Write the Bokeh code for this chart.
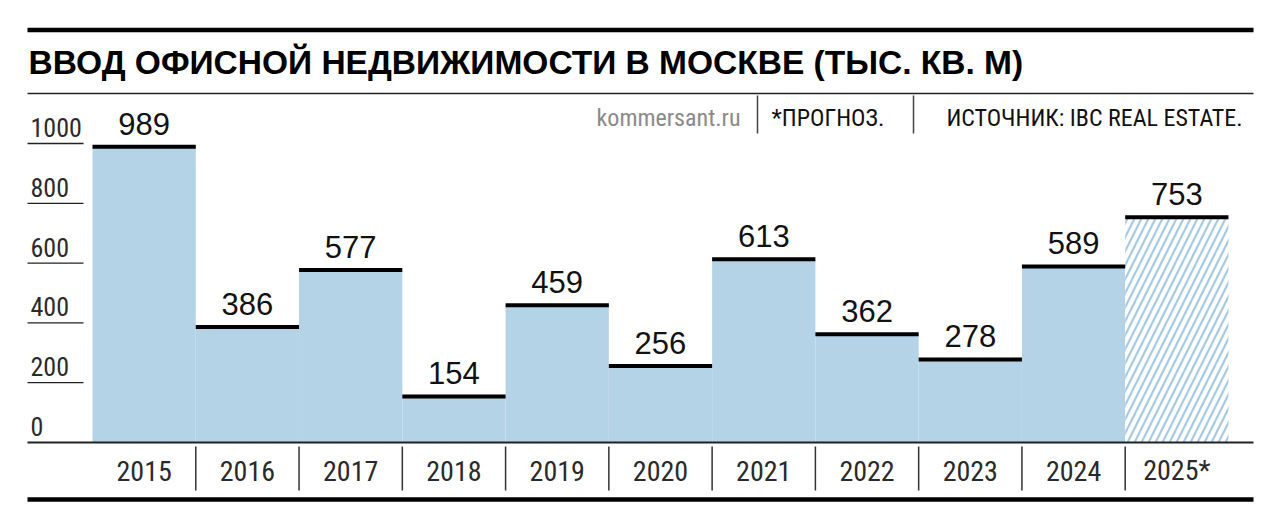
from bokeh.plotting import figure
from bokeh.models import Label, Range1d
from bokeh.core.properties import value
from bokeh.embed import file_html
from bokeh.resources import INLINE

years = ["2015", "2016", "2017", "2018", "2019", "2020",
         "2021", "2022", "2023", "2024", "2025*"]
office = [989, 386, 577, 154, 459, 256, 613, 362, 278, 589, 753]
forecast = [False] * 10 + [True]
y_ticks = [0, 200, 400, 600, 800, 1000]

title = "ВВОД ОФИСНОЙ НЕДВИЖИМОСТИ В МОСКВЕ (ТЫС. КВ. М)"
site = "kommersant.ru"
note = "*ПРОГНОЗ."
source = "ИСТОЧНИК: IBC REAL ESTATE."

W, H = 1264, 512
BLUE = "#b5d3e7"
COND = "Roboto Condensed"

# pixel scale of the reference: one bar = 103.27 px, 1000 units = 299 px
bar_px = 103.27
unit_px = 0.299
x0 = -0.5 - 92 / bar_px
y1 = 442 / unit_px
p = figure(width=W, height=H, output_backend="svg", toolbar_location=None,
           x_range=Range1d(x0, x0 + W / bar_px),
           y_range=Range1d(y1 - H / unit_px, y1),
           min_border=0)
p.axis.visible = False
p.grid.visible = False
p.outline_line_color = None
p.background_fill_color = "white"


def px(x):  # page pixel -> data x
    return x0 + x / bar_px


def py(y):  # page pixel -> data y
    return y1 - y / unit_px


idx = list(range(len(years)))
actual = [i for i in idx if not forecast[i]]
fc = [i for i in idx if forecast[i]]

p.vbar(x=actual, top=[office[i] for i in actual], width=1,
       fill_color=BLUE, line_color=None)
p.vbar(x=fc, top=[office[i] for i in fc], width=1,
       fill_color="white", line_color=None,
       hatch_pattern="/", hatch_color="#a6cae5", hatch_scale=14, hatch_weight=2.2)

p.segment(x0=[i - 0.5 for i in idx], x1=[i + 0.5 for i in idx],
          y0=office, y1=office, line_color="black", line_width=4)
p.text(x=idx, y=[v + 23 / unit_px for v in office], text=[str(v) for v in office],
       text_align="center", text_baseline="middle",
       text_font=value("Liberation Sans"), text_font_size="31px",
       text_color="#111111")

# y ticks drawn as underlined labels at the left
ticks_up = [t for t in y_ticks if t > 0]
p.segment(x0=px(27), x1=px(83), y0=ticks_up, y1=ticks_up,
          line_color="#222222", line_width=1.3)
p.text(x=px(30), y=[t + 16 / unit_px for t in y_ticks], text=[str(t) for t in y_ticks],
       text_align="left", text_baseline="middle",
       text_font=value(COND), text_font_size="26px",
       text_color="#2a2a2a")

# baseline and category strip
p.segment(x0=px(27), x1=px(1253), y0=0, y1=0, line_color="#222222",
          line_width=2)
p.segment(x0=[i + 0.5 for i in idx[:-1]], x1=[i + 0.5 for i in idx[:-1]],
          y0=py(446), y1=py(490), line_color="#333333", line_width=1.5)
p.text(x=idx, y=py(470), text=years, text_align="center",
       text_baseline="middle", text_font=value(COND),
       text_font_size="28px", text_color="#2a2a2a")

# rules
p.segment(x0=px(27), x1=px(1253), y0=py(499), y1=py(499),
          line_color="black", line_width=4.5)
p.segment(x0=px(27), x1=px(1253), y0=py(29.5), y1=py(29.5),
          line_color="black", line_width=4.5)
p.segment(x0=px(27), x1=px(1253), y0=py(93), y1=py(93),
          line_color="#222222", line_width=1.5)

# header separators
p.segment(x0=[px(757), px(913)], x1=[px(757), px(913)],
          y0=py(95), y1=py(133), line_color="#444444", line_width=1.5)

p.add_layout(Label(x=px(28), y=py(62), text=title, text_font="Liberation Sans",
                   text_font_style="bold", text_font_size="33.5px",
                   text_baseline="middle", text_color="black"))
p.add_layout(Label(x=px(740), y=py(117), text=site, text_font=COND,
                   text_font_size="24px", text_align="right",
                   text_baseline="middle", text_color="#8a8a8a"))
p.add_layout(Label(x=px(771), y=py(117), text=note, text_font=COND,
                   text_font_size="24px", text_baseline="middle",
                   text_color="#111111"))
p.add_layout(Label(x=px(1242), y=py(117), text=source,
                   text_font=COND, text_font_size="24px",
                   text_align="right", text_baseline="middle",
                   text_color="#111111"))

open("out.html", "w").write(file_html(p, INLINE))
